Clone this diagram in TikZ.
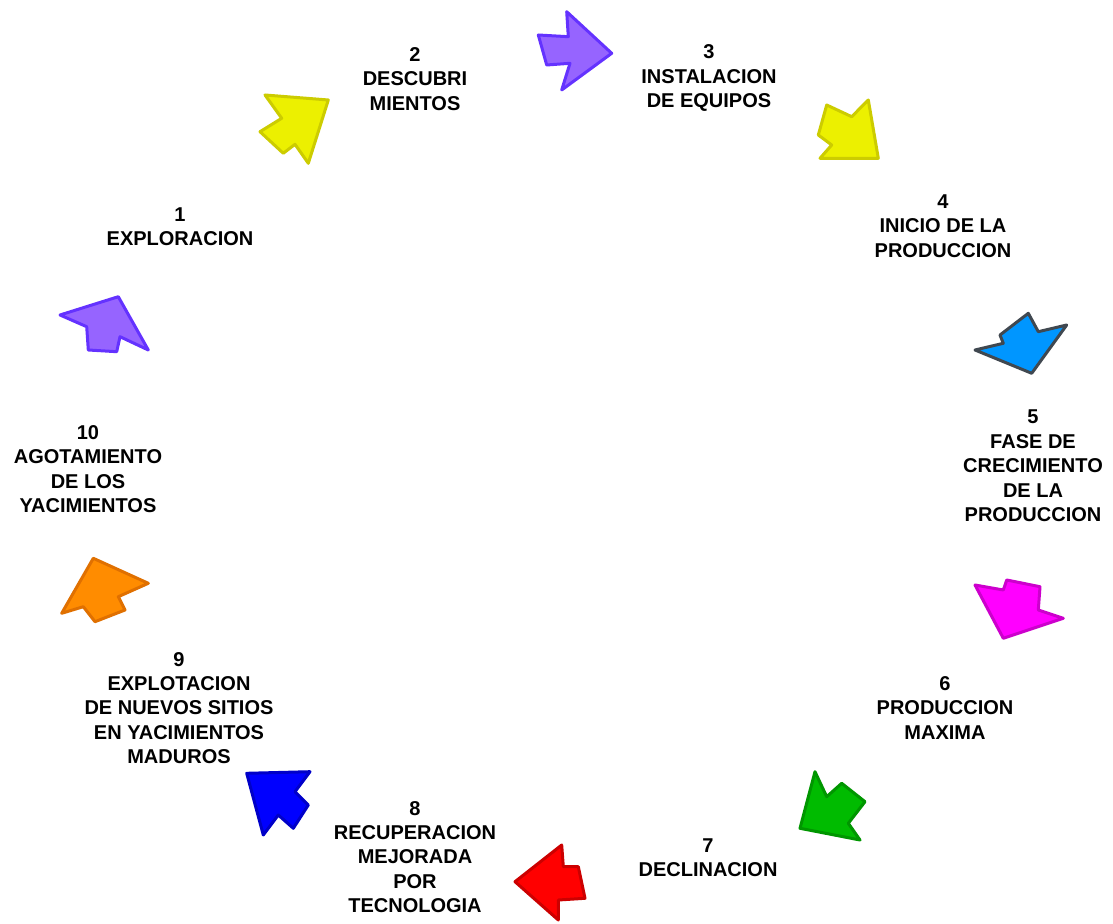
\documentclass[tikz,border=0pt]{standalone}
\usepackage{fontspec}
\setmainfont{Liberation Sans}
\usepackage{tikz}

\definecolor{amarillo}{RGB}{236,240,0}
\definecolor{amarilloB}{RGB}{204,204,0}
\definecolor{lila}{RGB}{150,100,255}
\definecolor{lilaB}{RGB}{100,50,255}
\definecolor{celeste}{RGB}{0,150,255}
\definecolor{celesteB}{RGB}{64,72,80}
\definecolor{fucsia}{RGB}{255,0,255}
\definecolor{fucsiaB}{RGB}{204,0,204}
\definecolor{verde}{RGB}{0,187,0}
\definecolor{verdeB}{RGB}{0,150,0}
\definecolor{rojo}{RGB}{255,0,0}
\definecolor{rojoB}{RGB}{204,0,0}
\definecolor{azul}{RGB}{0,0,255}
\definecolor{azulB}{RGB}{0,0,200}
\definecolor{naranja}{RGB}{255,140,0}
\definecolor{naranjaB}{RGB}{224,112,0}

\begin{document}
\begin{tikzpicture}[x=0.5pt,y=-0.5pt,
	etapa/.style={align=center,font=\bfseries\fontsize{10}{12.2}\selectfont},
	flecha/.style={line width=1.5pt,line join=round}]
	\useasboundingbox[fill=white] (0,0) rectangle (1113,924);

	% etapas del ciclo
	\node[etapa] (e1) at (180,227) {1\\EXPLORACION};
	\node[etapa] (e2) at (415,79) {2\\DESCUBRI\\MIENTOS};
	\node[etapa] (e3) at (709,78) {3\\INSTALACION\\DE EQUIPOS};
	\node[etapa] (e4) at (943,226) {4\\INICIO DE LA\\PRODUCCION};
	\node[etapa] (e5) at (1033,466) {5\\FASE DE\\CRECIMIENTO\\DE LA\\PRODUCCION};
	\node[etapa] (e6) at (945,708) {6\\PRODUCCION\\MAXIMA};
	\node[etapa] (e7) at (708,858) {7\\DECLINACION};
	\node[etapa] (e8) at (415,857) {8\\RECUPERACION\\MEJORADA\\POR\\TECNOLOGIA};
	\node[etapa] (e9) at (179,708) {9\\EXPLOTACION\\DE NUEVOS SITIOS\\EN YACIMIENTOS\\MADUROS};
	\node[etapa] (e10) at (88,469) {10\\AGOTAMIENTO\\DE LOS\\YACIMIENTOS};

	% flechas
	\draw[flecha,fill=amarillo,draw=amarilloB] (265,95) -- (328.3,100) -- (308.3,163.3) -- (295,144.3) -- (283.3,153.3) -- (260,131.7) -- (281.7,118.3) -- cycle;
	\draw[flecha,fill=lila,draw=lilaB] (566.7,11.7) -- (611.7,53.3) -- (561.7,90) -- (570,63.3) -- (546.7,65) -- (538.3,35) -- (568.3,36.7) -- cycle;
	\draw[flecha,fill=amarillo,draw=amarilloB] (826.7,105) -- (851.7,116.7) -- (868.3,100) -- (878.3,158.3) -- (820,158.3) -- (831.7,145) -- (818.3,135) -- cycle;
	\draw[flecha,fill=celeste,draw=celesteB] (975,350) -- (1003.3,343.3) -- (1000,335) -- (1028.3,313.3) -- (1038.3,331.7) -- (1066.7,325) -- (1031.7,373.3) -- cycle;
	\draw[flecha,fill=fucsia,draw=fucsiaB] (975,585) -- (1003.3,590) -- (1006.7,580) -- (1040,586.7) -- (1038.3,610) -- (1063.3,618.3) -- (1003.3,638.3) -- cycle;
	\draw[flecha,fill=verde,draw=verdeB] (815,771.7) -- (826.7,796.7) -- (841.7,783.3) -- (865,801.7) -- (848.3,823.3) -- (860,840) -- (800,828.3) -- cycle;
	\draw[flecha,fill=rojo,draw=rojoB] (561.7,845) -- (563.3,866.7) -- (578.3,866.7) -- (585,898.3) -- (558.3,900) -- (558.3,920) -- (515,881.7) -- cycle;
	\draw[flecha,fill=azul,draw=azulB] (246.7,773.3) -- (310,771.7) -- (295,791.7) -- (308.3,805) -- (293.3,828.3) -- (278.3,815) -- (263.3,835) -- cycle;
	\draw[flecha,fill=naranja,draw=naranjaB] (93.3,558.3) -- (148.3,583.3) -- (118.3,596.7) -- (125,610) -- (95,621.7) -- (83.3,606.7) -- (61.7,613.3) -- cycle;
	\draw[flecha,fill=lila,draw=lilaB] (60,315) -- (118.3,296.7) -- (148.3,350) -- (120,336.7) -- (116.7,351.7) -- (88.3,350) -- (86.7,326.7) -- cycle;
\end{tikzpicture}
\end{document}
